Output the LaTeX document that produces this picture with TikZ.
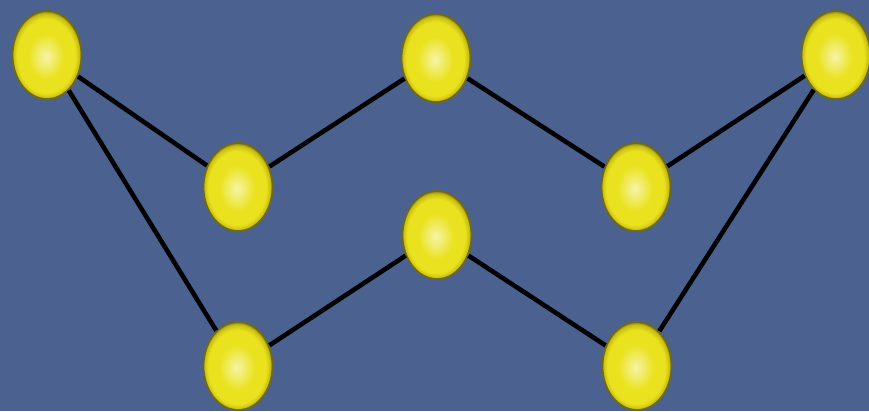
\documentclass[tikz,border=0pt]{standalone}
\usetikzlibrary{shapes.geometric}
\definecolor{bgblue}{HTML}{4B6190}
\definecolor{ballrim}{HTML}{6E6A18}
\definecolor{ballcore}{HTML}{F6F4A8}
\definecolor{ballbody}{HTML}{EAE21E}
\definecolor{ballshade}{HTML}{C8BE10}
\pgfdeclareradialshading{yellowball}{\pgfpoint{-1bp}{-1bp}}{%
  color(0bp)=(ballcore);
  color(13bp)=(ballbody);
  color(21bp)=(ballbody);
  color(24bp)=(ballshade);
  color(26bp)=(ballrim);
  color(50bp)=(ballrim)}

\begin{document}
\begin{tikzpicture}[
    x=0.01cm, y=-0.01cm,
    ball/.style={ellipse, minimum width=0.69cm, minimum height=0.88cm, inner sep=0pt,
                 shading=yellowball, draw=ballrim, line width=0.5pt},
    link/.style={line width=1.3pt, black}
]
    % background
    \fill[bgblue] (0,0) rectangle (869,411);
    \useasboundingbox (0,0) rectangle (869,411);

    % upper chain
    \node[ball] (topleft) at (47,55) {};
    \node[ball] (upperdipl) at (238,187) {};
    \node[ball] (topmid) at (436,58) {};
    \node[ball] (upperdipr) at (636,187) {};
    \node[ball] (topright) at (836,55) {};
    % lower chain
    \node[ball] (lowermid) at (437,235) {};
    \node[ball] (bottomleft) at (238,366) {};
    \node[ball] (bottomright) at (637,366) {};

    \draw[link] (topleft) -- (upperdipl);
    \draw[link] (upperdipl) -- (topmid);
    \draw[link] (topmid) -- (upperdipr);
    \draw[link] (upperdipr) -- (topright);
    \draw[link] (topleft) -- (bottomleft);
    \draw[link] (bottomleft) -- (lowermid);
    \draw[link] (lowermid) -- (bottomright);
    \draw[link] (bottomright) -- (topright);
\end{tikzpicture}
\end{document}
